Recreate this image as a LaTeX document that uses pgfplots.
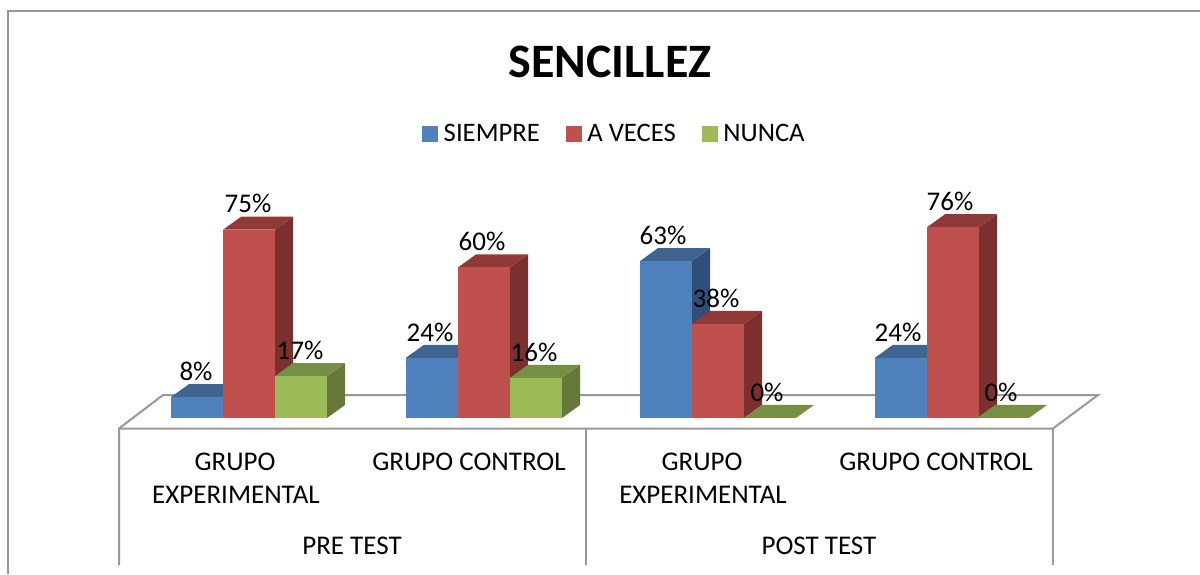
\documentclass[border=0pt]{standalone}
\usepackage{pgfplots}
\pgfplotsset{compat=1.18}
\usepackage{fontspec}
\setmainfont{Carlito}
\definecolor{bluef}{HTML}{4F81BD}\definecolor{bluet}{HTML}{3F6490}\definecolor{blues}{HTML}{2F4F78}
\definecolor{redf}{HTML}{C0504D}\definecolor{redt}{HTML}{8F3A38}\definecolor{reds}{HTML}{7B302E}
\definecolor{greenf}{HTML}{9BBB59}\definecolor{greent}{HTML}{778F44}\definecolor{greens}{HTML}{66793B}
\definecolor{rule}{HTML}{989898}
% #1 left edge px, #2 value, #3 shown label, #4 colour stem, #5 label x
\newcommand{\Bar}[5]{%
  \pgfmathsetmacro{\xr}{#1+52}\pgfmathsetmacro{\xc}{#1+26}
  \pgfmathsetmacro{\xd}{#1+18}\pgfmathsetmacro{\xe}{#1+70}
  \pgfmathsetmacro{\vt}{#2+5.18}
  \ifdim #2pt>0pt
  \addplot[fill=#4s,draw=none,forget plot] coordinates {(\xr,0)(\xe,5.18)(\xe,\vt)(\xr,#2)} --cycle;
  \fi
  \addplot[fill=#4t,draw=none,forget plot] coordinates {(#1,#2)(\xd,\vt)(\xe,\vt)(\xr,#2)} --cycle;
  \ifdim #2pt>0pt
  \addplot[ybar,bar width=52pt,bar shift=0pt,fill=#4f,draw=none,forget plot] coordinates {(\xc,#2)};
  \fi
}
\newcommand{\Lab}[3]{\node[font=\fontsize{27}{27}\selectfont,inner sep=0pt] at (axis cs:#1,#2+10.3) {#3\%};}
\begin{document}
\begin{tikzpicture}
\useasboundingbox (0,0) rectangle (1200pt,574pt);
% pixel-coordinate axis: frame, floor and text
\begin{axis}[name=chrome,at={(0,0)},anchor=south west,width=1200pt,height=574pt,scale only axis,
  xmin=0,xmax=1200,ymin=0,ymax=574,y dir=reverse,axis lines=none,clip=false]
\addplot[rule,line width=2pt,forget plot] coordinates {(7.5,574)(7.5,11)(1200,11)};
\addplot[rule,line width=2pt,forget plot] coordinates {(119,565)(119,428.5)(163,395)(1098,395)(1053,428.5)(119,428.5)};
\addplot[rule,line width=2pt,forget plot] coordinates {(1053,428.5)(1053,565)};
\addplot[rule,line width=2pt,forget plot] coordinates {(586,428.5)(586,565)};
\node[font=\fontsize{48}{48}\selectfont\bfseries] at (axis cs:610,62) {SENCILLEZ};
\begin{scope}[font=\fontsize{27}{27}\selectfont,inner sep=0pt]
\node at (axis cs:235,462) {GRUPO};
\node at (axis cs:236,495) {EXPERIMENTAL};
\node at (axis cs:469,462) {GRUPO CONTROL};
\node at (axis cs:352,546) {PRE TEST};
\node at (axis cs:702,462) {GRUPO};
\node at (axis cs:703,495) {EXPERIMENTAL};
\node at (axis cs:936,462) {GRUPO CONTROL};
\node at (axis cs:819,546) {POST TEST};
\end{scope}
\end{axis}
% data axis: x in pixels, y in percent
\begin{axis}[at={(0,0)},anchor=south west,width=1200pt,height=574pt,scale only axis,
  xmin=0,xmax=1200,ymin=-62.15,ymax=166.53,axis lines=none,clip=false,
  legend style={at={(axis cs:614.5,113.35)},anchor=center,draw=none,fill=none,legend columns=3,
    font=\fontsize{26.7}{26.7}\selectfont,inner sep=0pt,
    /tikz/every odd column/.append style={column sep=4pt},
    /tikz/every even column/.append style={column sep=24pt}},
  legend image code/.code={\fill[#1] (0pt,-7.5pt) rectangle (15pt,7.5pt);}]
\addlegendimage{bluef}\addlegendentry{SIEMPRE}
\addlegendimage{redf}\addlegendentry{A VECES}
\addlegendimage{greenf}\addlegendentry{NUNCA}
\Bar{171}{8.33}{8}{blue}{196}
\Bar{223}{75}{75}{red}{248}
\Bar{275}{16.67}{17}{green}{300}
\Bar{406}{24}{24}{blue}{430}
\Bar{458}{60}{60}{red}{482}
\Bar{510}{16}{16}{green}{534}
\Bar{640}{62.5}{63}{blue}{663}
\Bar{692}{37.5}{38}{red}{716}
\Bar{744}{0}{0}{green}{767}
\Bar{875}{24}{24}{blue}{898}
\Bar{927}{76}{76}{red}{950}
\Bar{977}{0}{0}{green}{1001}
\Lab{196}{8.33}{8}
\Lab{248}{75}{75}
\Lab{300}{16.67}{17}
\Lab{430}{24}{24}
\Lab{482}{60}{60}
\Lab{534}{16}{16}
\Lab{663}{62.5}{63}
\Lab{716}{37.5}{38}
\Lab{767}{0}{0}
\Lab{898}{24}{24}
\Lab{950}{76}{76}
\Lab{1001}{0}{0}
\end{axis}
\end{tikzpicture}
\end{document}
